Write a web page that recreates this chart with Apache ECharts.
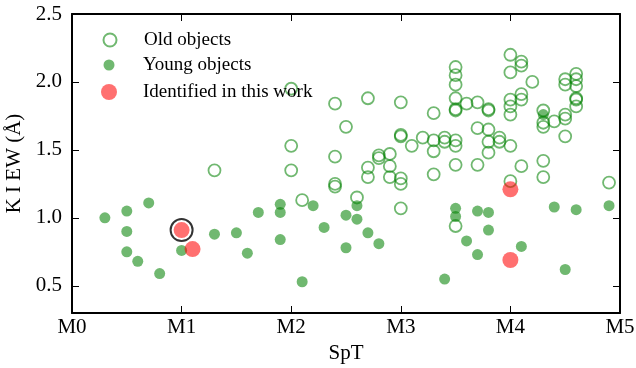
<!DOCTYPE html>
<html>
<head>
<meta charset="utf-8">
<script src="https://cdn.jsdelivr.net/npm/echarts@6/dist/echarts.min.js"></script>
<style>
  html, body { margin: 0; padding: 0; background: #fff; }
  #chart { width: 636px; height: 368px; }
</style>
</head>
<body>
<div id="chart"></div>
<script>
// Spectral type ticks (numeric subtype -> label)
const sptTicks = ['M0', 'M1', 'M2', 'M3', 'M4', 'M5'];
// K I EW tick values
const ewTicks = [0.5, 1.0, 1.5, 2.0, 2.5];

// Old objects: spectral subtype and K I equivalent width (Å)
const oldSpT = [1.3, 2.0, 2.0, 2.0, 2.1, 2.4, 2.5, 2.4, 2.4, 2.4, 2.6, 2.7, 2.7, 2.7, 2.8, 2.8,
  2.9, 2.9, 2.9, 3.0, 3.0, 3.0, 3.0, 3.0, 3.0, 3.1, 3.2, 3.3, 3.3, 3.3, 3.3, 3.4, 3.4,
  3.5, 3.5, 3.5, 3.5, 3.5, 3.5, 3.5, 3.5, 3.5, 3.5, 3.6, 3.7, 3.7, 3.7, 3.8, 3.8, 3.8,
  3.8, 3.8, 3.9, 3.9, 4.0, 4.0, 4.0, 4.0, 4.0, 4.0, 4.0, 4.1, 4.1, 4.1, 4.1, 4.1, 4.2,
  4.3, 4.3, 4.3, 4.3, 4.3, 4.4, 4.5, 4.5, 4.5, 4.5, 4.5, 4.6, 4.6, 4.6, 4.6, 4.6, 4.6, 4.9];
const oldEW = [1.35, 1.95, 1.53, 1.35, 1.13, 1.84, 1.67, 1.45, 1.25, 1.23, 1.15, 1.88, 1.37, 1.30, 1.46, 1.44,
  1.47, 1.38, 1.30, 1.85, 1.61, 1.60, 1.29, 1.25, 1.07, 1.53, 1.59, 1.77, 1.57, 1.49, 1.32, 1.59, 1.56,
  2.11, 2.05, 1.98, 1.88, 1.80, 1.79, 1.57, 1.53, 1.39, 0.94, 1.84, 1.85, 1.66, 1.39, 1.80, 1.79, 1.65,
  1.56, 1.48, 1.59, 1.56, 2.20, 2.07, 1.87, 1.82, 1.76, 1.53, 1.27, 2.15, 2.12, 1.91, 1.87, 1.38, 2.00,
  1.79, 1.70, 1.67, 1.42, 1.30, 1.71, 2.02, 1.98, 1.76, 1.73, 1.60, 2.06, 2.02, 1.97, 1.88, 1.87, 1.82, 1.26];

// Young objects
const youngSpT = [0.3, 0.5, 0.7, 0.5, 0.5, 0.6, 0.8, 1.0, 1.3, 1.5, 1.6, 1.7, 1.9, 1.9, 1.9, 2.1,
  2.2, 2.3, 2.5, 2.5, 2.6, 2.6, 2.7, 2.8, 3.4, 3.5, 3.5, 3.6, 3.7, 3.7, 3.8, 3.8, 4.1,
  4.3, 4.4, 4.5, 4.6, 4.9];
const youngEW = [1.00, 1.05, 1.11, 0.90, 0.75, 0.68, 0.59, 0.76, 0.88, 0.89, 0.74, 1.04, 1.10, 1.04, 0.84, 0.53,
  1.09, 0.93, 1.02, 0.78, 1.09, 0.99, 0.89, 0.81, 0.55, 1.07, 1.01, 0.83, 1.05, 0.73, 1.04, 0.91, 0.79,
  1.76, 1.08, 0.62, 1.06, 1.09];

// Objects identified in this work
const newSpT = [1.0, 1.1, 4.0, 4.0];
const newEW = [0.91, 0.77, 1.21, 0.69];
// Index of the highlighted (circled) object
const highlightIdx = 0;

const zip = (xs, ys) => xs.map((x, i) => [x, ys[i]]);

const FONT = 'Liberation Serif';
const GREEN = 'rgba(0,128,0,0.7)';
const RED = 'rgba(255,0,0,0.7)';

const chart = echarts.init(document.getElementById('chart'), null, { renderer: 'canvas' });

// One legend block per entry so each marker can have its own size;
// markers share a centre column and the labels share a left edge.
const LEG_CX = 109, LEG_TEXT_X = 143;
function legendEntry(name, size, centerY) {
  const left = LEG_CX - size / 2;
  return {
    left: left, top: centerY - 10,
    itemWidth: size, itemHeight: size,
    selectedMode: false, padding: 0,
    textStyle: { fontFamily: FONT, fontSize: 19, color: '#000', lineHeight: 20,
      padding: [0, 0, 0, LEG_TEXT_X - (left + size + 5)] },
    data: [name]
  };
}

const axisLineStyle = { color: '#000', width: 2 };
const tickStyle = { color: '#000', width: 1 };

chart.setOption({
  animation: false,
  backgroundColor: '#fff',
  grid: { left: 72, right: 16, top: 14, bottom: 55, outerBoundsMode: 'none', containLabel: false },
  legend: [
    legendEntry('Old objects', 13, 40),
    legendEntry('Young objects', 11, 65),
    legendEntry('Identified in this work', 16, 92)
  ],
  xAxis: [{
    type: 'value', min: 0, max: 5, interval: 1,
    name: 'SpT', nameLocation: 'middle', nameGap: 28,
    nameTextStyle: { fontFamily: FONT, fontSize: 21, color: '#000' },
    axisLine: { onZero: false, lineStyle: axisLineStyle },
    axisTick: { inside: true, length: 7, lineStyle: tickStyle },
    axisLabel: { fontFamily: FONT, fontSize: 21, color: '#000', margin: 4,
      formatter: v => sptTicks[Math.round(v)] },
    splitLine: { show: false }
  }, {
    type: 'value', min: 0, max: 5, interval: 1, position: 'top',
    axisLine: { onZero: false, lineStyle: axisLineStyle },
    axisTick: { inside: true, length: 7, lineStyle: tickStyle },
    axisLabel: { show: false },
    splitLine: { show: false }
  }],
  yAxis: [{
    type: 'value', min: 0.3, max: 2.5,
    name: 'K I EW (Å)', nameLocation: 'middle', nameGap: 46, nameRotate: 90,
    nameTextStyle: { fontFamily: FONT, fontSize: 21, color: '#000' },
    axisLine: { onZero: false, lineStyle: axisLineStyle },
    axisTick: { inside: true, length: 7, lineStyle: tickStyle, customValues: ewTicks },
    axisLabel: { fontFamily: FONT, fontSize: 21, color: '#000', margin: 10,
      customValues: ewTicks, formatter: v => v.toFixed(1) },
    splitLine: { show: false }
  }, {
    type: 'value', min: 0.3, max: 2.5, position: 'right',
    axisLine: { show: true, onZero: false, lineStyle: axisLineStyle },
    axisTick: { show: true, inside: true, length: 7, lineStyle: tickStyle, customValues: ewTicks },
    axisLabel: { show: false },
    splitLine: { show: false }
  }],
  series: [{
    name: 'Old objects', type: 'scatter', symbol: 'circle', symbolSize: 12,
    itemStyle: { color: 'rgba(0,0,0,0)', borderColor: GREEN, borderWidth: 1.8 },
    data: zip(oldSpT, oldEW)
  }, {
    name: 'Young objects', type: 'scatter', symbol: 'circle', symbolSize: 11,
    itemStyle: { color: GREEN },
    data: zip(youngSpT, youngEW)
  }, {
    name: 'Identified in this work', type: 'scatter', symbol: 'circle', symbolSize: 16,
    itemStyle: { color: RED },
    data: zip(newSpT, newEW)
  }, {
    name: 'highlight', type: 'scatter', symbol: 'circle', symbolSize: 22,
    itemStyle: { color: 'rgba(0,0,0,0)', borderColor: '#000', borderWidth: 2 },
    data: [[newSpT[highlightIdx], newEW[highlightIdx]]]
  }]
});
</script>
</body>
</html>
